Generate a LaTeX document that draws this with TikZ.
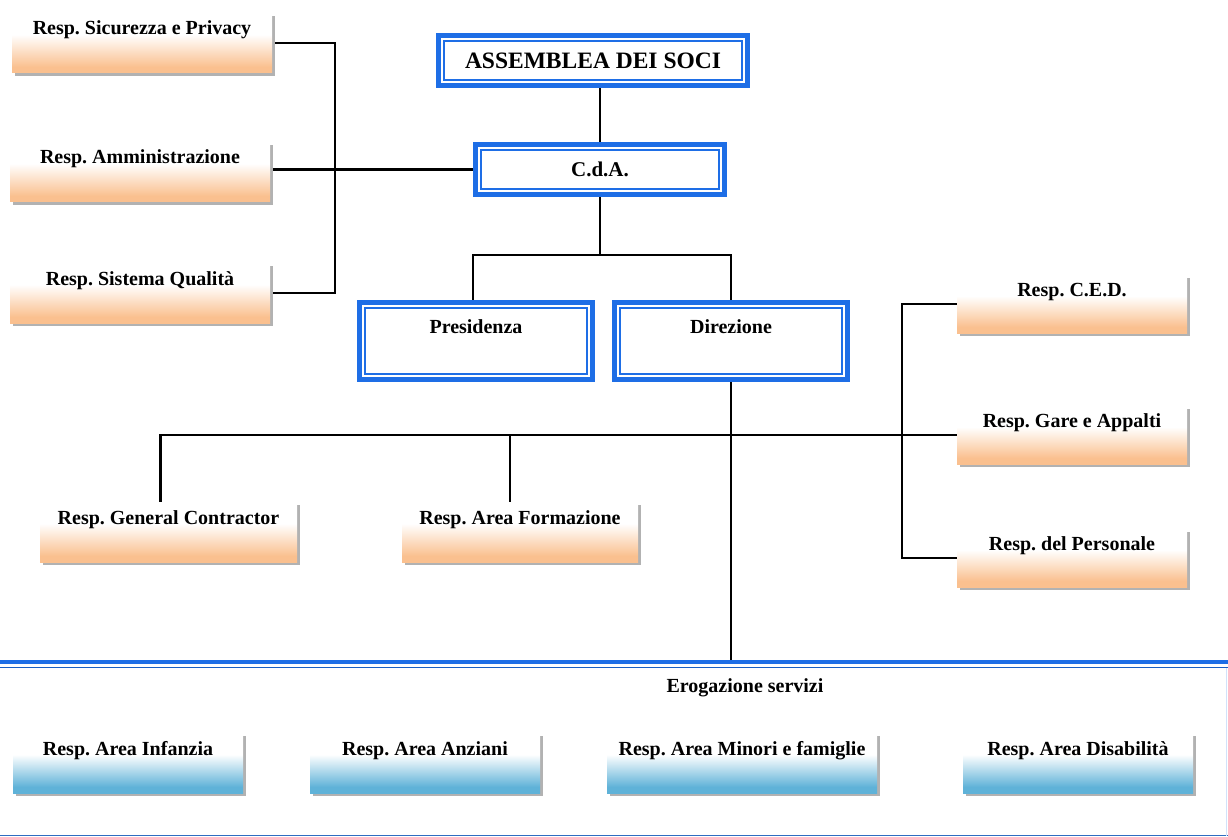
\documentclass[tikz,border=0pt]{standalone}
\usepackage{fontspec}
\setmainfont{Liberation Serif}
\usetikzlibrary{shadows,backgrounds,calc}
\definecolor{frameblue}{HTML}{1E6EE6}
\definecolor{orb}{HTML}{FAC08F}
\definecolor{blb}{HTML}{5FB2D8}
\definecolor{lineblue}{HTML}{2F6CC0}
\pgfdeclareverticalshading{orangesh}{100bp}{color(0bp)=(orb); color(30bp)=(orb); color(57bp)=(white); color(100bp)=(white)}
\pgfdeclareverticalshading{bluesh}{100bp}{color(0bp)=(blb); color(30bp)=(blb); color(57bp)=(white); color(100bp)=(white)}
\frenchspacing
\begin{document}
\begin{tikzpicture}[x=1pt,y=-1pt,
  lbl/.style={font=\fontsize{20}{24}\selectfont\bfseries},
  respbox/.style={lbl, minimum width=260pt, minimum height=60pt, inner sep=0pt,
    text height=14pt, text depth=30pt,
    drop shadow={shadow xshift=3pt, shadow yshift=-3pt, fill=black!30, opacity=1}},
  orbox/.style={respbox, shade, shading=orangesh},
  blbox/.style={respbox, shade, shading=bluesh},
  framebox/.style={lbl, draw=frameblue, line width=5pt, fill=white, inner sep=0pt},
  innerframe/.style={draw=frameblue, line width=1.5pt},
  link/.style={draw=black, line width=2.2pt}
]
\useasboundingbox (0,0) rectangle (1228,837);

% frame of the services area
\draw[frameblue, line width=4pt] (0,662) -- (1228,662);
\draw[frameblue!85!black, line width=1.3pt] (0,667.5) -- (1228,667.5);
\draw[lineblue, line width=1.5pt] (0,835.5) -- (1228,835.5);
\draw[frameblue!20, line width=1.2pt] (1226.5,668) -- (1226.5,836);

% governing bodies
\node[framebox, minimum width=309pt, minimum height=50pt, font=\fontsize{23.5}{28}\selectfont\bfseries] (ass) at (593,60.5) {ASSEMBLEA DEI SOCI};
\node[framebox, minimum width=249pt, minimum height=50pt, font=\fontsize{21}{25}\selectfont\bfseries] (cda) at (600,169.5) {C.d.A.};
\node[framebox, minimum width=233pt, minimum height=77pt, text height=14pt, text depth=29pt] (pres) at (476,341) {Presidenza};
\node[framebox, minimum width=233pt, minimum height=77pt, text height=14pt, text depth=29pt] (dir) at (731,341) {Direzione};
\draw[innerframe] ($(ass.north west)+(8,8)$) rectangle ($(ass.south east)+(-8,-8)$);
\draw[innerframe] ($(cda.north west)+(8,8)$) rectangle ($(cda.south east)+(-8,-8)$);
\draw[innerframe] ($(pres.north west)+(8,8)$) rectangle ($(pres.south east)+(-8,-8)$);
\draw[innerframe] ($(dir.north west)+(8,8)$) rectangle ($(dir.south east)+(-8,-8)$);

% staff roles (orange)
\node[orbox] (sic) at (142,43) {Resp. Sicurezza e Privacy};
\node[orbox] (amm) at (140,172) {Resp. Amministrazione};
\node[orbox] (qual) at (140,293) {Resp. Sistema Qualità};
\node[orbox, minimum width=257pt] (gc) at (168.5,532) {Resp. General Contractor};
\node[orbox, minimum width=236pt] (form) at (520,532) {Resp. Area Formazione};
\node[orbox, minimum width=230pt, minimum height=58pt] (ced) at (1072,304) {Resp. C.E.D.};
\node[orbox, minimum width=230pt, minimum height=58pt] (gare) at (1072,435) {Resp. Gare e Appalti};
\node[orbox, minimum width=230pt, minimum height=58pt] (pers) at (1072,558) {Resp. del Personale};

% services (blue)
\node[lbl] (ero) at (745,688) {Erogazione servizi};
\node[blbox, minimum width=230pt] (inf) at (128,763) {Resp. Area Infanzia};
\node[blbox, minimum width=230pt] (anz) at (425,763) {Resp. Area Anziani};
\node[blbox, minimum width=270pt] (min) at (742,763) {Resp. Area Minori e famiglie};
\node[blbox, minimum width=230pt] (dis) at (1078,763) {Resp. Area Disabilità};

\coordinate (bus) at (600,255);
\coordinate (ftop) at (731,661);

\begin{pgfonlayer}{background}
\fill[white] (0,0) rectangle (1228,837);
\draw[link] (ass.south -| cda.north) -- (cda.north);
\draw[link] (sic.east) -- ++(63,0) |- (qual.east);
\draw[link] (cda.west) -- (cda.west -| amm.east);
\draw[link] (cda.south) -- (cda.south |- bus);
\draw[link] ([xshift=-3pt]pres.north) |- (dir.north |- bus) -- (dir.north);
\draw[link] (dir.south) -- (dir.south |- ftop);
\draw[link] ([xshift=-8pt]gc.north) |- (gare.west);
\draw[link] ([xshift=-10pt]form.north) -- ([xshift=-10pt]form.north |- gare.west);
\draw[link] (ced.west) -- ++(-55,0) |- (pers.west);
\end{pgfonlayer}
\end{tikzpicture}
\end{document}
